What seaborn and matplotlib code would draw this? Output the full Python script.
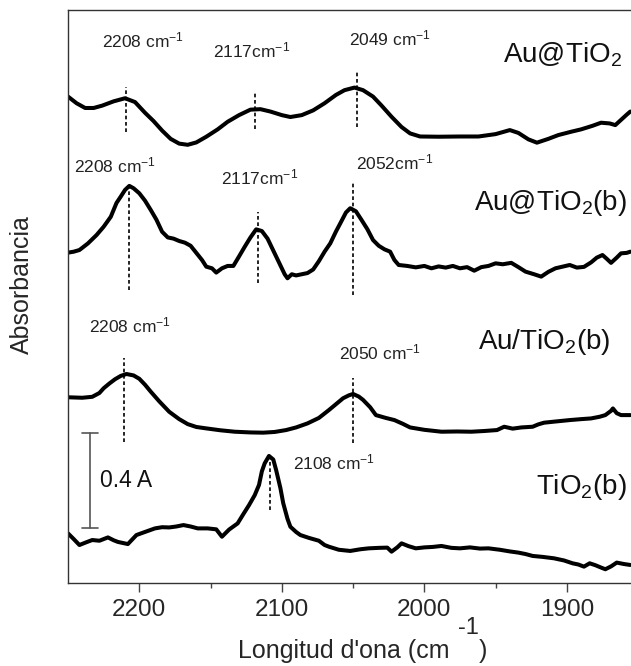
import matplotlib
matplotlib.use("Agg")
import matplotlib.pyplot as plt
import pandas as pd
import seaborn as sns

sns.set_theme(style="white")
plt.rcParams["font.family"] = ["Liberation Sans", "DejaVu Sans"]
plt.rcParams["mathtext.fontset"] = "custom"
plt.rcParams["mathtext.rm"] = "Liberation Sans"
plt.rcParams["mathtext.it"] = "Liberation Sans:italic"

# ---------------- data (absorbance, offset spectra) ----------------
wn_au_tio2 = [2250, 2244, 2238, 2232, 2226, 2218, 2210, 2203, 2196, 2190, 2184, 2178, 2172, 2166,
              2160, 2153, 2145, 2138, 2130, 2122, 2115, 2108, 2100, 2094, 2086, 2078, 2070, 2062,
              2056, 2049, 2043, 2036, 2030, 2023, 2016, 2010, 2003, 1990, 1975, 1962, 1950, 1940,
              1934, 1927, 1921, 1913, 1906, 1897, 1890, 1882, 1876, 1870, 1866, 1862, 1858, 1855.5]
ab_au_tio2 = [2.048, 2.020, 2.000, 2.000, 2.010, 2.028, 2.041, 2.025, 1.980, 1.945, 1.905, 1.870,
              1.850, 1.845, 1.855, 1.879, 1.910, 1.942, 1.970, 1.993, 1.995, 1.985, 1.970, 1.962,
              1.970, 1.990, 2.020, 2.055, 2.075, 2.086, 2.075, 2.048, 2.010, 1.963, 1.920, 1.893,
              1.880, 1.879, 1.880, 1.880, 1.890, 1.907, 1.895, 1.868, 1.854, 1.870, 1.886, 1.900,
              1.910, 1.925, 1.938, 1.935, 1.928, 1.950, 1.972, 1.985]

wn_au_tio2_b = [2250, 2246, 2242, 2236, 2230, 2225, 2220, 2216, 2213, 2210, 2207, 2204, 2200, 2196,
                2192, 2188, 2184, 2180, 2176, 2172, 2168, 2164, 2160, 2156, 2153, 2149, 2146, 2142,
                2138, 2134, 2130, 2126, 2122, 2118, 2114, 2110, 2106, 2102, 2098, 2096, 2093, 2090,
                2086, 2082, 2078, 2074, 2070, 2066, 2062, 2059, 2055, 2052, 2048, 2044, 2040, 2036,
                2032, 2028, 2024, 2021, 2018, 2012, 2006, 2000, 1995, 1990, 1985, 1980, 1975, 1970,
                1965, 1960, 1955, 1950, 1945, 1939, 1934, 1929, 1923, 1918, 1913, 1908, 1903, 1898,
                1893, 1888, 1883, 1879, 1875, 1872, 1869, 1865, 1862, 1858, 1855.5]
ab_au_tio2_b = [1.391, 1.395, 1.402, 1.430, 1.465, 1.500, 1.542, 1.600, 1.627, 1.655, 1.672, 1.662,
                1.641, 1.610, 1.571, 1.530, 1.479, 1.455, 1.450, 1.440, 1.433, 1.420, 1.390, 1.360,
                1.332, 1.325, 1.307, 1.325, 1.335, 1.335, 1.375, 1.416, 1.455, 1.489, 1.482, 1.450,
                1.400, 1.350, 1.300, 1.283, 1.300, 1.295, 1.300, 1.305, 1.320, 1.355, 1.395, 1.430,
                1.480, 1.514, 1.560, 1.578, 1.565, 1.528, 1.490, 1.444, 1.420, 1.405, 1.395, 1.360,
                1.339, 1.335, 1.329, 1.335, 1.325, 1.333, 1.328, 1.335, 1.325, 1.330, 1.315, 1.330,
                1.335, 1.346, 1.342, 1.348, 1.330, 1.311, 1.300, 1.290, 1.310, 1.325, 1.332, 1.339,
                1.328, 1.331, 1.350, 1.370, 1.381, 1.365, 1.348, 1.370, 1.388, 1.390, 1.395]

wn_au_tio2_imp = [2250, 2240, 2233, 2228, 2225, 2221, 2217, 2213, 2209, 2204, 2200, 2196, 2192, 2186,
                  2179, 2172, 2166, 2160, 2153, 2143, 2133, 2122, 2113, 2105, 2097, 2090, 2082, 2074,
                  2067, 2061, 2057, 2053, 2050, 2046, 2043, 2038, 2034, 2027, 2021, 2015, 2010, 2000,
                  1988, 1977, 1967, 1958, 1949, 1944, 1938, 1932, 1924, 1920, 1916, 1908, 1898, 1890,
                  1883, 1877, 1873, 1869, 1867.7, 1865, 1862, 1855.5]
ab_au_tio2_imp = [0.782, 0.780, 0.784, 0.800, 0.820, 0.840, 0.858, 0.872, 0.880, 0.874, 0.860, 0.835,
                  0.806, 0.765, 0.721, 0.690, 0.669, 0.657, 0.651, 0.643, 0.637, 0.634, 0.633, 0.636,
                  0.644, 0.655, 0.672, 0.695, 0.728, 0.758, 0.778, 0.790, 0.796, 0.785, 0.771, 0.740,
                  0.707, 0.695, 0.686, 0.670, 0.655, 0.645, 0.637, 0.638, 0.637, 0.640, 0.644, 0.658,
                  0.650, 0.655, 0.658, 0.668, 0.675, 0.680, 0.686, 0.690, 0.693, 0.700, 0.707, 0.725,
                  0.735, 0.715, 0.707, 0.707]

wn_tio2_b = [2250, 2246, 2242, 2237, 2233, 2228, 2222, 2218, 2215, 2208, 2202, 2196, 2189, 2184,
             2179, 2174, 2169, 2164, 2159, 2152, 2146, 2142, 2137, 2131, 2127, 2123, 2119, 2116,
             2114, 2112, 2109, 2106, 2104, 2101, 2099, 2096, 2094, 2090, 2087, 2081, 2074, 2070,
             2067, 2060, 2052, 2045, 2039, 2032, 2026, 2023, 2019, 2016, 2011, 2006, 2000, 1994,
             1988, 1981, 1975, 1968, 1961, 1955, 1947, 1940, 1934, 1929, 1924, 1917, 1909, 1902,
             1896, 1892, 1888, 1884, 1880, 1876, 1873, 1869, 1865, 1860, 1855.5]
ab_tio2_b = [0.209, 0.185, 0.160, 0.172, 0.181, 0.178, 0.192, 0.180, 0.173, 0.164, 0.202, 0.215,
             0.230, 0.235, 0.234, 0.238, 0.244, 0.238, 0.230, 0.230, 0.226, 0.195, 0.225, 0.251,
             0.290, 0.328, 0.370, 0.413, 0.470, 0.504, 0.535, 0.520, 0.476, 0.400, 0.336, 0.270,
             0.237, 0.215, 0.202, 0.190, 0.178, 0.160, 0.153, 0.140, 0.135, 0.142, 0.146, 0.148,
             0.149, 0.132, 0.150, 0.167, 0.155, 0.146, 0.150, 0.152, 0.156, 0.148, 0.146, 0.150,
             0.145, 0.146, 0.140, 0.133, 0.128, 0.122, 0.114, 0.110, 0.104, 0.095, 0.083, 0.078,
             0.069, 0.083, 0.075, 0.065, 0.058, 0.070, 0.086, 0.080, 0.076]

# peak marker lines: wavenumber, lower / upper absorbance
peak_wn = [2209, 2119, 2047, 2207, 2117, 2050, 2211, 2050, 2108]
peak_lo = [1.900, 1.910, 1.921, 1.234, 1.262, 1.213, 0.595, 0.588, 0.307]
peak_hi = [2.090, 2.064, 2.153, 1.669, 1.563, 1.690, 0.946, 0.862, 0.546]

peak_labels = ["2208 cm$^{\\mathregular{-1}}$", "2117cm$^{\\mathregular{-1}}$", "2049 cm$^{\\mathregular{-1}}$",
               "2208 cm$^{\\mathregular{-1}}$", "2117cm$^{\\mathregular{-1}}$", "2052cm$^{\\mathregular{-1}}$",
               "2208 cm$^{\\mathregular{-1}}$", "2050 cm$^{\\mathregular{-1}}$", "2108 cm$^{\\mathregular{-1}}$"]
sample_labels = ["Au@TiO$_2$", "Au@TiO$_2$(b)", "Au/TiO$_2$(b)", "TiO$_2$(b)"]
scale_bar = 0.4  # A

xticks_major = [2200, 2100, 2000, 1900]
xticks_minor = [2150, 2050, 1950]

frames = []
for name, wn, ab in [("Au@TiO2", wn_au_tio2, ab_au_tio2),
                     ("Au@TiO2(b)", wn_au_tio2_b, ab_au_tio2_b),
                     ("Au/TiO2(b)", wn_au_tio2_imp, ab_au_tio2_imp),
                     ("TiO2(b)", wn_tio2_b, ab_tio2_b)]:
    frames.append(pd.DataFrame({"wn": wn, "ab": ab, "sample": name}))
df = pd.concat(frames, ignore_index=True)

# ---------------- figure ----------------
fig = plt.figure(figsize=(6.31, 6.66), dpi=100)
ax = fig.add_axes([0.1078, 0.1246, 0.8922, 0.8604])

sns.lineplot(data=df, x="wn", y="ab", units="sample", estimator=None, sort=False,
             color="black", linewidth=2.9, ax=ax, legend=False)

for w, lo, hi in zip(peak_wn, peak_lo, peak_hi):
    ax.plot([w, w], [lo, hi], color="black", linestyle=(0, (2.2, 1.6)), linewidth=1.2)

ax.set_xlim(2250, 1855)
ax.set_ylim(0, 2.4126)

# annotations (positions in data coords)
ann_pos = [(2226, 2.283), (2148, 2.244), (2053, 2.291),
           (2246, 1.757), (2143, 1.707), (2048, 1.771),
           (2235, 1.083), (2060, 0.971), (2092, 0.507)]
for txt, (x, y) in zip(peak_labels, ann_pos):
    ax.text(x, y, txt, fontsize=12.5, color="#222222", ha="left", va="center")

lab_pos = [(1944.5, 2.223), (1965.5, 1.602), (1962, 1.013), (1922, 0.405)]
for txt, (x, y) in zip(sample_labels, lab_pos):
    ax.text(x, y, txt, fontsize=20, color="#111111", ha="left", va="center")

# scale bar
bx = 2234.5
b0, b1 = 0.230, 0.230 + scale_bar
ax.plot([bx, bx], [b0, b1], color="#555555", linewidth=1.2)
ax.plot([2240.2, 2229.2], [b0, b0], color="#555555", linewidth=1.2)
ax.plot([2240.2, 2229.2], [b1, b1], color="#555555", linewidth=1.2)
ax.text(2227.6, 0.430, "0.4 A", fontsize=16.5, ha="left", va="center", color="#111111")

ax.set_xticks(xticks_major)
ax.set_xticks(xticks_minor, minor=True)
ax.set_xticklabels([str(t) for t in xticks_major], fontsize=17.5)
ax.set_yticks([])
ax.tick_params(axis="x", which="major", direction="out", length=6.5, width=1,
               color="#444444", bottom=True, pad=5)
ax.tick_params(axis="x", which="minor", direction="out", length=3.8, width=1,
               color="#444444", bottom=True)
ax.set_xlabel("")
ax.set_ylabel("Absorbancia", fontsize=18)
ax.yaxis.set_label_coords(-0.0604, 0.52)

for side in ["left", "bottom", "top"]:
    ax.spines[side].set_visible(True)
    ax.spines[side].set_color("#333333")
    ax.spines[side].set_linewidth(1.0)
ax.spines["right"].set_visible(False)

fig.text(238 / 631, 1 - 651 / 666, "Longitud d'ona (cm", fontsize=18, ha="left", va="center")
fig.text(458 / 631, 1 - 628 / 666, "-1", fontsize=17, ha="left", va="center")
fig.text(479 / 631, 1 - 651 / 666, ")", fontsize=18, ha="left", va="center")

fig.savefig("out.png", dpi=100, facecolor="white")
